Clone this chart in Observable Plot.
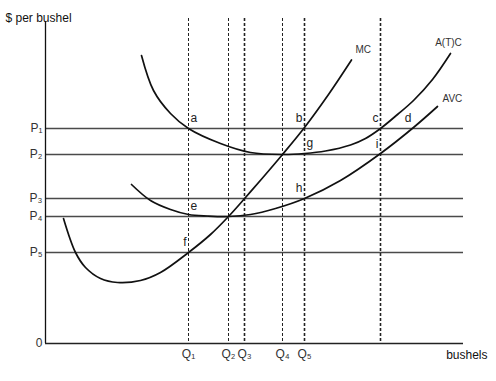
<!DOCTYPE html>
<html>
<head>
<meta charset="utf-8">
<script src="https://cdn.jsdelivr.net/npm/d3@7"></script>
<script src="https://cdn.jsdelivr.net/npm/@observablehq/plot@0.6"></script>
<style>
  html, body { margin: 0; padding: 0; background: #fff; }
  svg { display: block; }
</style>
</head>
<body>
<div id="chart"></div>
<script>
// Price levels (value axis) and their labels
const priceValues = [215, 189, 145, 127, 91];
const priceLabels = ["P\u2081", "P\u2082", "P\u2083", "P\u2084", "P\u2085"];
// Quantity levels (bushels) and their labels
const qtyValues = [143, 183, 199, 237, 259];
const qtyLabels = ["Q\u2081", "Q\u2082", "Q\u2083", "Q\u2084", "Q\u2085"];
const extraQty = [335];            // unlabeled dashed line through c / i

// Cost curves: quantity, price
const mcQ  = [18, 30, 40, 55, 72, 95, 115, 143, 165, 183, 200, 217, 237, 259, 283, 306];
const mcP  = [125, 91, 76, 65, 61, 63, 71, 91, 109, 127, 146, 165.5, 189, 216, 249, 283.5];
const atcQ = [96, 108, 125, 143, 175, 205, 237, 259, 280, 305, 320, 335, 352, 368, 387, 405];
const atcP = [288, 253, 230, 215, 200, 191, 189, 190, 192.5, 198.5, 205, 215, 229, 243, 264, 290];
const avcQ = [86, 105, 125, 143, 162, 183, 205, 230, 259, 295, 335, 368, 392];
const avcP = [159, 143, 134, 129, 127.5, 127, 129, 135, 145, 163, 190, 216, 237];

// Intersection point letters
const ptNames = ["a", "b", "c", "d", "g", "i", "h", "e", "f"];
const ptQ     = [143, 259, 335, 368, 259, 335, 259, 143, 143];
const ptP     = [215, 215, 215, 215, 190, 189, 145, 127, 91];
const ptSide  = ["r", "l", "l", "l", "r", "l", "l", "r", "l"];

const curveNames = ["MC", "A(T)C", "AVC"];

const zip = (qs, ps) => qs.map((q, i) => ({q, p: ps[i]}));
const mc = zip(mcQ, mcP), atc = zip(atcQ, atcP), avc = zip(avcQ, avcP);
const pts = ptNames.map((n, i) => ({name: n, q: ptQ[i], p: ptP[i], side: ptSide[i]}));
const ends = [
  {name: curveNames[0], ...mc[mc.length - 1]},
  {name: curveNames[1], ...atc[atc.length - 1]},
  {name: curveNames[2], ...avc[avc.length - 1]}
];

const font = "'Liberation Sans', Arial, sans-serif";
const pLab = new Map(priceValues.map((v, i) => [v, priceLabels[i]]));
pLab.set(0, "0");
const qLab = new Map(qtyValues.map((v, i) => [v, qtyLabels[i]]));

const chart = Plot.plot({
  width: 496,
  height: 381,
  marginLeft: 45,
  marginRight: 33,
  marginTop: 18,
  marginBottom: 38,
  style: {fontFamily: font, fontSize: "11px", background: "#fff", color: "#222"},
  x: {domain: [0, 418], axis: null},
  y: {domain: [0, 325], axis: null},
  marks: [
    // horizontal price lines
    Plot.ruleY(priceValues, {stroke: "#4a4a4a", strokeWidth: 1.3}),
    // vertical dashed quantity lines
    Plot.ruleX(qtyValues, {stroke: "#222", strokeWidth: (d, i) => (i === 2 || i === 4 ? 1.6 : 1), strokeDasharray: "3,2"}),
    Plot.ruleX(extraQty, {stroke: "#222", strokeWidth: 1.6, strokeDasharray: "3,2"}),
    // axes lines
    Plot.ruleX([0], {y1: 0, y2: 322, stroke: "#111", strokeWidth: 1.3}),
    Plot.ruleY([0], {stroke: "#222", strokeWidth: 1.3}),
    // tick labels
    Plot.axisY({ticks: [...priceValues, 0], tickFormat: d => pLab.get(d), tickSize: 0, tickPadding: 3, fontSize: 12, fill: "#333", label: null}),
    Plot.axisX({ticks: qtyValues, tickFormat: d => qLab.get(d), tickSize: 0, tickPadding: 6, fontSize: 12, fill: "#333", label: null}),
    // cost curves
    Plot.line(mc, {x: "q", y: "p", curve: "catmull-rom", stroke: "#111", strokeWidth: 1.7}),
    Plot.line(atc, {x: "q", y: "p", curve: "catmull-rom", stroke: "#111", strokeWidth: 1.7}),
    Plot.line(avc, {x: "q", y: "p", curve: "catmull-rom", stroke: "#111", strokeWidth: 1.7}),
    // curve labels
    Plot.text(ends.slice(0, 1), {x: "q", y: "p", text: "name", textAnchor: "start", dx: 4, dy: -10, fontSize: 10, fill: "#333"}),
    Plot.text(ends.slice(1, 2), {x: "q", y: "p", text: "name", textAnchor: "middle", dx: -2, dy: -11, fontSize: 10, fill: "#333"}),
    Plot.text(ends.slice(2, 3), {x: "q", y: "p", text: "name", textAnchor: "start", dx: 5, dy: -8, fontSize: 10, fill: "#333"}),
    // point letters
    Plot.text(pts.filter(d => d.side === "r"), {x: "q", y: "p", text: "name", textAnchor: "start", dx: 2, dy: -10, fontSize: 12, fill: "#222"}),
    Plot.text(pts.filter(d => d.side === "l"), {x: "q", y: "p", text: "name", textAnchor: "end", dx: -2, dy: -10, fontSize: 12, fill: "#222"}),
    // axis titles
    Plot.text(["$ per bushel"], {frameAnchor: "top-left", textAnchor: "start", dx: -40, dy: -5, fontSize: 12, fill: "#111"}),
    Plot.text(["bushels"], {frameAnchor: "bottom-right", textAnchor: "end", dx: 24, dy: 15, fontSize: 12, fill: "#111"})
  ]
});
document.getElementById("chart").append(chart);
</script>
</body>
</html>
